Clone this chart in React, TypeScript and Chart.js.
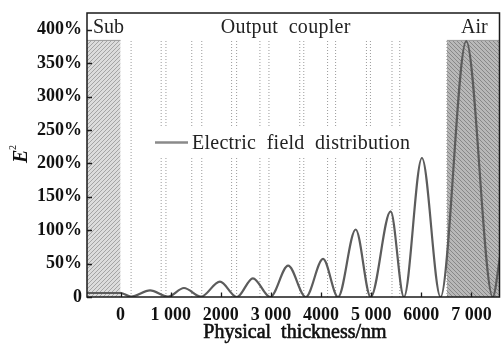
import React, { useEffect, useRef } from 'react';
import { Chart, registerables } from 'chart.js';

Chart.register(...registerables);

// Electric field distribution (E², %)
const curveX = [-670, 0, 209, 588, 946, 1265, 1604, 1982, 2320, 2640, 2986, 3343, 3695, 4040, 4339, 4691, 4990, 5388, 5653, 6012, 6384, 6896, 7426, 7570];
const curveY = [6, 6, 0.5, 10, 0.5, 13.5, 0.5, 23, 0, 28, 0, 47, 0, 57, 0, 101, 0, 128, 0, 208, 0, 383, 0, 60];

// layer boundaries in the output coupler (dotted lines)
const boundaryX = [210, 810, 905, 1420, 1620, 2215, 2315, 2780, 2960, 3575, 3655, 4130, 4290, 4905, 4985, 5415, 5570, 6510];

const regionTop = 384;
const subRange = [-670, 0];
const airRange = [6510, 7570];

const xTickValues = [0, 1000, 2000, 3000, 4000, 5000, 6000, 7000];
const xTickLabels = ['0', '1 000', '2000', '3 000', '4000', '5 000', '6000', '7 000'];
const yTickValues = [0, 50, 100, 150, 200, 250, 300, 350, 400];
const yTickLabels = ['0', '50%', '100%', '150%', '200%', '250%', '300%', '350%', '400%'];

const regionLabels = ['Sub', 'Output  coupler', 'Air'];
const legendLabel = 'Electric  field  distribution';
const xTitle = 'Physical  thickness/nm';

function makePattern(ctx: CanvasRenderingContext2D, bg: string, fg: string, dir: number) {
  const c = document.createElement('canvas');
  c.width = 4;
  c.height = 4;
  const g = c.getContext('2d')!;
  g.fillStyle = bg;
  g.fillRect(0, 0, 4, 4);
  g.strokeStyle = fg;
  g.lineWidth = 1;
  g.beginPath();
  if (dir > 0) {
    g.moveTo(0, 4); g.lineTo(4, 0);
    g.moveTo(-1, 1); g.lineTo(1, -1);
    g.moveTo(3, 5); g.lineTo(5, 3);
  } else {
    g.moveTo(0, 0); g.lineTo(4, 4);
    g.moveTo(3, -1); g.lineTo(5, 1);
    g.moveTo(-1, 3); g.lineTo(1, 5);
  }
  g.stroke();
  return ctx.createPattern(c, 'repeat')!;
}

export default function App() {
  const ref = useRef<HTMLCanvasElement | null>(null);

  useEffect(() => {
    document.body.style.margin = '0';
    const canvas = ref.current!;
    const ctx = canvas.getContext('2d')!;
    const subPattern = makePattern(ctx, '#dcdcdc', '#a4a4a4', 1);
    const airPattern = makePattern(ctx, '#b8b8b8', '#888888', -1);

    const curveData = curveX.map((x, i) => ({ x, y: curveY[i] }));

    const boundarySets = boundaryX.map((bx) => ({
      data: [{ x: bx, y: 0 }, { x: bx, y: regionTop }],
      borderColor: '#9a9a9a',
      borderWidth: 1,
      borderDash: [1, 2],
      pointRadius: 0,
      fill: false,
    }));

    const decor = {
      id: 'decor',
      afterDatasetsDraw(chart: any) {
        const { ctx: c, chartArea: a, scales } = chart;
        const xs = scales.x;
        const ys = scales.y;
        c.save();
        // legend
        c.fillStyle = '#ffffff';
        c.fillRect(140, 127, 280, 31);
        c.strokeStyle = '#8a8a8a';
        c.lineWidth = 2.5;
        c.beginPath();
        c.moveTo(155, 142.5);
        c.lineTo(188, 142.5);
        c.stroke();
        c.fillStyle = '#222';
        c.font = '20px "Liberation Serif"';
        c.textAlign = 'left';
        c.textBaseline = 'alphabetic';
        (c as any).letterSpacing = '0.25px';
        c.fillText(legendLabel, 192, 148.5);

        // region labels
        c.font = '20px "Liberation Serif"';
        c.fillStyle = '#222';
        (c as any).letterSpacing = '0px';
        c.textAlign = 'left';
        c.fillText(regionLabels[0], xs.getPixelForValue(subRange[0]) + 6, 33);
        c.textAlign = 'center';
        (c as any).letterSpacing = '0.3px';
        c.fillText(regionLabels[1], xs.getPixelForValue((subRange[1] + airRange[0]) / 2) + 2, 33);
        (c as any).letterSpacing = '0px';
        c.fillText(regionLabels[2], xs.getPixelForValue((airRange[0] + airRange[1]) / 2) + 1, 33);

        // frame
        c.strokeStyle = '#1a1a1a';
        c.lineWidth = 1.5;
        c.strokeRect(a.left, a.top, a.right - a.left - 0.5, a.bottom - a.top);

        // inward ticks
        c.lineWidth = 1.3;
        c.beginPath();
        xTickValues.forEach((v) => {
          const px = Math.round(xs.getPixelForValue(v)) + 0.5;
          c.moveTo(px, a.bottom);
          c.lineTo(px, a.bottom - 4.5);
        });
        yTickValues.forEach((v) => {
          const py = Math.round(ys.getPixelForValue(v)) + 0.5;
          c.moveTo(a.left, py);
          c.lineTo(a.left + 5, py);
        });
        c.stroke();

        // x tick labels
        c.fillStyle = '#111';
        c.font = 'bold 18px "Liberation Serif"';
        c.textAlign = 'center';
        xTickValues.forEach((v, i) => {
          c.fillText(xTickLabels[i], xs.getPixelForValue(v), 320);
        });

        // x title (semi-bold look)
        c.font = '20px "Liberation Serif"';
        c.textAlign = 'center';
        c.strokeStyle = '#111';
        c.lineWidth = 0.6;
        c.fillText(xTitle, 295, 338);
        c.strokeText(xTitle, 295, 338);

        // y title E²
        c.save();
        c.translate(0, 163);
        c.rotate(-Math.PI / 2);
        c.textAlign = 'left';
        c.font = 'italic bold 20px "Liberation Serif"';
        c.fillText('E', 0, 27);
        c.font = '10px "Liberation Serif"';
        c.fillText('2', 13, 16);
        c.restore();
        c.restore();
      },
    };

    const chart = new Chart(canvas, {
      type: 'line',
      data: {
        datasets: [
          {
            label: 'Electric field distribution',
            data: curveData,
            borderColor: '#5c5c5c',
            borderWidth: 2.2,
            pointRadius: 0,
            cubicInterpolationMode: 'monotone',
            fill: false,
          },
          ...boundarySets,
          {
            data: [{ x: subRange[0], y: regionTop }, { x: subRange[1], y: regionTop }],
            borderColor: '#9a9a9a',
            borderWidth: 1,
            pointRadius: 0,
            backgroundColor: subPattern,
            fill: 'origin',
          },
          {
            data: [{ x: airRange[0], y: regionTop }, { x: airRange[1], y: regionTop }],
            borderColor: '#9a9a9a',
            borderWidth: 1,
            pointRadius: 0,
            backgroundColor: airPattern,
            fill: 'origin',
          },
        ] as any,
      },
      options: {
        responsive: false,
        animation: false,
        devicePixelRatio: 1,
        layout: { padding: { top: 13, right: 1, left: 0, bottom: 0 } },
        plugins: { legend: { display: false }, tooltip: { enabled: false } },
        scales: {
          x: {
            type: 'linear',
            min: -670,
            max: 7570,
            grid: { display: false, drawTicks: false },
            border: { display: false },
            afterFit: (s: any) => { s.height = 47; s.paddingLeft = 0; s.paddingRight = 0; },
            ticks: {
              display: false,
              stepSize: 1000,
              includeBounds: false,
            },
          },
          y: {
            type: 'linear',
            min: 0,
            max: 425,
            grid: { display: false, drawTicks: false },
            border: { display: false },
            afterFit: (s: any) => { s.width = 87; s.paddingTop = 0; s.paddingBottom = 0; },
            ticks: {
              stepSize: 50,
              includeBounds: false,
              padding: 5,
              color: '#111',
              font: { family: '"Liberation Serif"', size: 18, weight: 'bold' },
              callback: (v: any) => {
                const i = yTickValues.indexOf(Number(v));
                return i >= 0 ? yTickLabels[i] : '';
              },
            },
          },
        },
      } as any,
      plugins: [decor],
    });
    return () => chart.destroy();
  }, []);

  return (
    <div style={{ width: 501, height: 344 }}>
      <canvas ref={ref} width={501} height={344} />
    </div>
  );
}
